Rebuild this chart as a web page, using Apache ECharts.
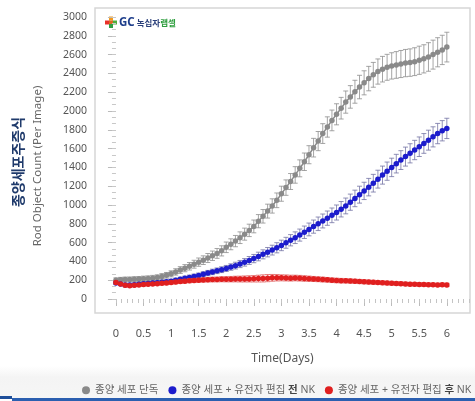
<!DOCTYPE html>
<html><head><meta charset="utf-8">
<script src="https://cdn.jsdelivr.net/npm/echarts@6/dist/echarts.min.js"></script>
<style>html,body{margin:0;padding:0;background:#fff}#c{width:475px;height:401px}</style>
</head><body><div id="c"></div>
<script>
// sampling times: every 2 hours over 6 days
const hours = Array.from({length: 73}, (_, i) => i * 2);
const days = hours.map(h => h / 24);

const seriesNames = ['종양 세포 단독', '종양 세포 + 유전자 편집 전 NK', '종양 세포 + 유전자 편집 후 NK'];

const grayMean = [200,205,207,208,210,212,215,218,222,228,240,252,268,
288,308,328,348,370,392,413,436,460,485,512,550,
582,616,652,690,730,772,828,880,935,990,1050,1120,
1185,1250,1320,1390,1460,1535,1610,1680,1760,1830,1900,1965,
2030,2095,2150,2205,2255,2300,2345,2385,2420,2445,2465,2480,
2490,2500,2510,2515,2525,2540,2555,2575,2600,2625,2650,2680];
const grayErr = [25,25,26,26,27,27,28,28,29,29,30,30,32,
34,36,38,40,42,44,46,48,50,52,54,56,
58,60,62,64,66,68,70,72,74,76,78,80,
82,85,88,90,93,96,99,102,105,108,110,112,
115,118,120,122,125,128,130,132,134,136,138,140,
142,144,145,146,148,150,150,152,154,155,156,158];

const blueMean = [170,160,150,148,152,158,162,165,170,174,178,183,190,
200,210,220,230,240,250,263,276,288,300,312,325,
340,355,372,390,410,430,452,475,498,520,545,570,
598,625,652,680,710,740,770,800,830,860,890,920,
955,990,1030,1070,1110,1150,1190,1232,1275,1318,1360,1400,
1440,1478,1515,1550,1585,1620,1655,1690,1725,1760,1790,1815];
const blueErr = [15,15,15,15,16,16,16,17,17,18,18,19,20,
21,22,23,24,25,26,27,28,29,30,31,32,
34,36,38,40,42,44,46,48,50,52,54,56,
58,60,62,64,66,68,70,72,74,76,78,80,
82,84,86,88,90,92,93,94,95,96,97,98,
99,100,101,102,103,104,105,106,107,108,108,108];

const redMean = [175,160,145,142,145,150,153,157,160,163,167,170,175,
180,185,190,194,197,200,203,205,207,208,210,210,
211,212,212,213,214,215,217,219,222,225,226,225,
224,222,223,221,218,216,213,210,207,204,200,197,
195,193,191,189,186,183,180,178,175,172,170,168,
165,163,160,158,157,155,153,152,151,150,151,150];
const redErr = [15,15,15,15,15,15,16,16,16,17,17,18,18,
19,20,20,21,22,22,23,24,25,26,27,28,
29,30,31,32,33,34,36,38,38,36,34,32,
32,31,30,30,29,28,27,26,26,25,25,24,
24,23,23,22,22,22,21,21,21,20,20,20,
20,20,19,19,19,19,19,18,18,18,18,18];

const yMajor = [0,200,400,600,800,1000,1200,1400,1600,1800,2000,2200,2400,2600,2800,3000];
const xMajor = [0,0.5,1,1.5,2,2.5,3,3.5,4,4.5,5,5.5,6];

const yMinor = [];
for (let v = 0; v <= 3000.01; v += 200/3) yMinor.push(+v.toFixed(2));
const xMinor = [];
for (let v = 0; v <= 6.41; v += 0.1) xMinor.push(+v.toFixed(2));

const colors = ['#8a8a8a', '#1c1ccc', '#e01f1f'];
const barColors = ['#8e8e8e', '#7474a4', '#e05a5a'];

const chart = echarts.init(document.getElementById('c'));
const font = "'Noto Sans', 'Noto Sans CJK KR', sans-serif";

function errSeries(mean, err, idx) {
  return {
    type: 'custom',
    name: seriesNames[idx],
    xAxisIndex: 0, yAxisIndex: 0,
    z: 2 + idx * 2,
    silent: true,
    data: mean.map((m, i) => [days[i], m - err[i], m + err[i]]),
    renderItem: function (params, api) {
      const x = api.value(0);
      const lo = api.coord([x, api.value(1)]);
      const hi = api.coord([x, api.value(2)]);
      const w = 2.5;
      const st = {stroke: barColors[idx], lineWidth: 0.8};
      return {type: 'group', children: [
        {type: 'line', shape: {x1: lo[0], y1: lo[1], x2: hi[0], y2: hi[1]}, style: st},
        {type: 'line', shape: {x1: lo[0]-w, y1: lo[1], x2: lo[0]+w, y2: lo[1]}, style: st},
        {type: 'line', shape: {x1: hi[0]-w, y1: hi[1], x2: hi[0]+w, y2: hi[1]}, style: st}
      ]};
    }
  };
}
function lineSeries(mean, idx) {
  return {
    type: 'line', name: seriesNames[idx],
    xAxisIndex: 0, yAxisIndex: 0,
    z: 3 + idx * 2,
    data: mean.map((m, i) => [days[i], m]),
    symbol: 'circle', symbolSize: 5.5, showSymbol: true,
    itemStyle: {color: colors[idx]},
    lineStyle: {color: colors[idx], width: 1.5},
    animation: false
  };
}

const option = {
  animation: false,
  backgroundColor: '#fff',
  textStyle: {fontFamily: font},
  grid: {left: 95, right: 5, top: 8, bottom: 88, show: true, borderColor: '#d6d6d6', borderWidth: 1.5, backgroundColor: 'transparent'},
  xAxis: [{
    type: 'value', min: -0.38, max: 6.42,
    axisLine: {show: false},
    splitLine: {show: false},
    axisTick: {show: true, customValues: xMajor, length: 7, lineStyle: {color: '#bbb'}},
    axisLabel: {customValues: xMajor, color: '#555', fontSize: 11, margin: 15, fontFamily: font, formatter: v => String(v)},
    name: 'Time(Days)', nameLocation: 'middle', nameGap: 40,
    nameTextStyle: {color: '#555', fontSize: 12, fontFamily: font}
  }, {
    type: 'value', min: -0.38, max: 6.42, position: 'bottom',
    axisLine: {show: false}, splitLine: {show: false},
    axisTick: {show: true, customValues: xMinor, length: 4, lineStyle: {color: '#c4c4c4'}},
    axisLabel: {show: false}
  }],
  yAxis: [{
    type: 'value', min: -149, max: 3096, offset: 2,
    axisLine: {show: false}, splitLine: {show: false},
    axisTick: {show: true, customValues: yMajor, length: 8, lineStyle: {color: '#bbb'}},
    axisLabel: {customValues: yMajor, color: '#555', fontSize: 10.5, margin: 6, fontFamily: font, formatter: v => String(v)}
  }, {
    type: 'value', min: -149, max: 3096, offset: 2, position: 'left',
    axisLine: {show: false}, splitLine: {show: false},
    axisTick: {show: true, customValues: yMinor, length: 4, lineStyle: {color: '#c8c8c8'}},
    axisLabel: {show: false}
  }],
  legend: {
    left: 82, top: 385, width: 460, padding: 0,
    itemWidth: 8, itemHeight: 8, itemGap: 10,
    icon: 'circle',
    data: seriesNames.map((n, i) => ({name: n, itemStyle: {color: colors[i]}})),
    formatter: function (n) {
      if (n.indexOf('전 NK') >= 0) return '종양 세포 + 유전자 편집 {b|전} NK';
      if (n.indexOf('후 NK') >= 0) return '종양 세포 + 유전자 편집 {b|후} NK';
      return n;
    },
    textStyle: {color: '#666', fontSize: 10.5, fontFamily: font,
      rich: {b: {fontWeight: 'bold', color: '#444', fontSize: 10.5, fontFamily: font}}}
  },
  graphic: [
    {type: 'rect', z: -10, shape: {x: 0, y: 366, width: 475, height: 32},
      style: {fill: new echarts.graphic.LinearGradient(0, 0, 0, 1, [{offset: 0, color: '#ffffff'}, {offset: 0.35, color: '#f4f4f4'}, {offset: 1, color: '#f6f6f6'}])}},
    {type: 'rect', shape: {x: 12, y: 398, width: 463, height: 3}, style: {fill: '#2b5fb0'}},
    {type: 'rect', shape: {x: 0, y: 396, width: 12, height: 3}, style: {fill: '#1f4f9a'}},
    {type: 'text', x: 38, y: 166, rotation: Math.PI / 2,
      style: {text: 'Rod Object Count (Per Image)', fill: '#666', fontSize: 11.5, fontFamily: font, align: 'center', verticalAlign: 'middle'}},
    {type: 'text', x: 18, y: 162, rotation: Math.PI / 2,
      style: {text: '종양세포주증식', fill: '#1f3a6b', fontSize: 14, fontWeight: 'bold', fontFamily: "'Noto Sans CJK KR', sans-serif", align: 'center', verticalAlign: 'middle'}},
    // logo
    {type: 'rect', shape: {x: 109, y: 16.5, width: 4, height: 4}, style: {fill: '#f39a1e'}},
    {type: 'rect', shape: {x: 105, y: 20.5, width: 4.5, height: 4}, style: {fill: '#e8312a'}},
    {type: 'rect', shape: {x: 112.5, y: 20.5, width: 4.5, height: 4}, style: {fill: '#4caf3c'}},
    {type: 'rect', shape: {x: 109, y: 20.5, width: 4, height: 4}, style: {fill: '#d96a24'}},
    {type: 'rect', shape: {x: 109, y: 24, width: 4, height: 4}, style: {fill: '#2f9e44'}},
    {type: 'text', x: 119, y: 22.5, style: {
      text: '{g|GC}{k|녹십자}{l|랩셀}', verticalAlign: 'middle',
      rich: {
        g: {fill: '#1f3f8c', fontSize: 11.5, fontWeight: 'bold', fontFamily: "'Noto Sans', sans-serif", padding: [0, 2, 0, 0]},
        k: {fill: '#2a3f7a', fontSize: 8.5, fontWeight: 'bold', fontFamily: "'Noto Sans CJK KR', sans-serif"},
        l: {fill: '#2e9e3e', fontSize: 8.5, fontWeight: 'bold', fontFamily: "'Noto Sans CJK KR', sans-serif"}
      }}}
  ],
  series: [
    errSeries(grayMean, grayErr, 0), lineSeries(grayMean, 0),
    errSeries(blueMean, blueErr, 1), lineSeries(blueMean, 1),
    errSeries(redMean, redErr, 2), lineSeries(redMean, 2)
  ]
};
chart.setOption(option);
</script></body></html>
